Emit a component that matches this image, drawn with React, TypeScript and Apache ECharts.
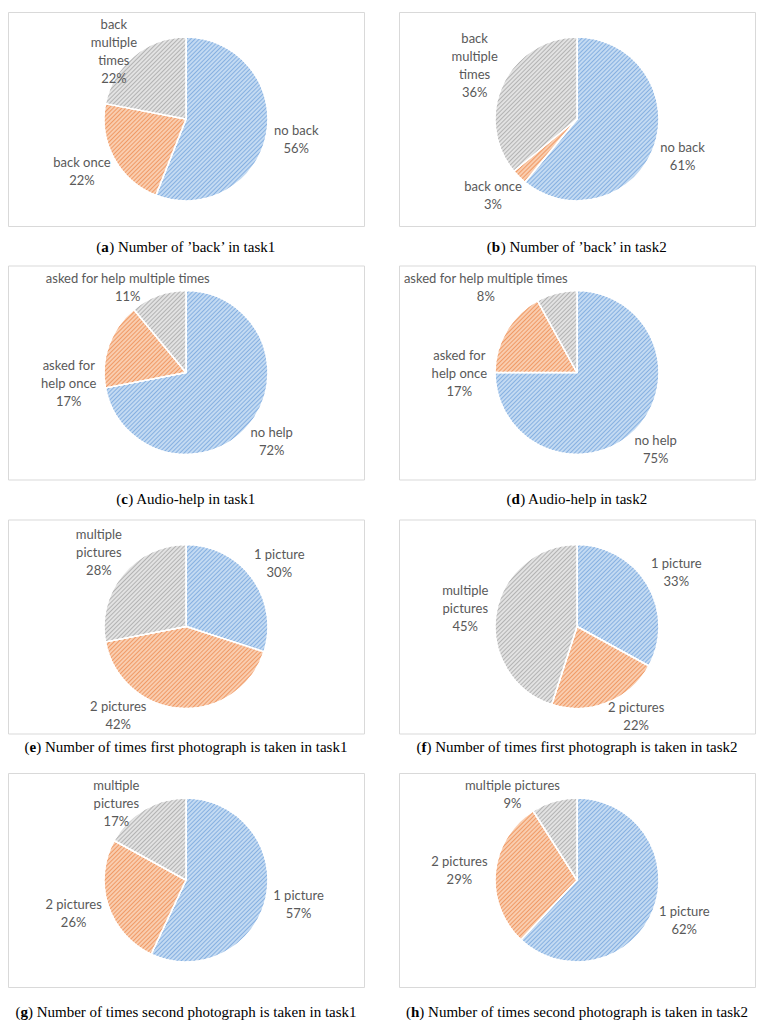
import React, { useEffect, useRef } from "react";
import * as echarts from "echarts";

// ---- data ----
const letters = ["a", "b", "c", "d", "e", "f", "g", "h"];
const captions = [
  "Number of \u2019back\u2019 in task1",
  "Number of \u2019back\u2019 in task2",
  "Audio-help in task1",
  "Audio-help in task2",
  "Number of times first photograph is taken in task1",
  "Number of times first photograph is taken in task2",
  "Number of times second photograph is taken in task1",
  "Number of times second photograph is taken in task2",
];
const backLabelsA = ["no back", "back once", "back\nmultiple\ntimes"];
const helpLabels = ["no help", "asked for\nhelp once", "asked for help multiple times"];
const pictureLabels = ["1 picture", "2 pictures", "multiple\npictures"];
const pictureLabelsH = ["1 picture", "2 pictures", "multiple pictures"];
const categories = [
  backLabelsA,
  backLabelsA,
  helpLabels,
  helpLabels,
  pictureLabels,
  pictureLabels,
  pictureLabels,
  pictureLabelsH,
];
const valuesA = [56, 22, 22];
const valuesB = [61, 3, 36];
const valuesC = [72, 17, 11];
const valuesD = [75, 17, 8];
const valuesE = [30, 42, 28];
const valuesF = [33, 22, 45];
const valuesG = [57, 26, 17];
const valuesH = [62, 29, 9];
const values = [valuesA, valuesB, valuesC, valuesD, valuesE, valuesF, valuesG, valuesH];

// ---- layout / style ----
const COL_CX = [186, 577];
const ROW_CY = [119, 372.5, 626.5, 880];
const CAPTION_Y = [247, 499, 747, 1012];
const BOX_W = 356;
const BOX_H = 214;
const BOX_TOP_OFF = 107;
const R = 82;
const GAP = 8;
// Excel "best fit" moved a few labels away from the slice mid-angle
const labelAngleOverride: (number | null)[][] = [
  [null, null, null],
  [null, null, null],
  [null, 265, null],
  [null, 270, 328],
  [null, 215, null],
  [null, 150, null],
  [null, null, 322],
  [null, null, 332],
];
const sliceStyles = [
  { bg: "#C3DAF2", line: "#86B0E1" },
  { bg: "#F9CDAF", line: "#F09A66" },
  { bg: "#E2E2E2", line: "#B3B3B3" },
];
const LABEL_COLOR = "#595959";

function panelGeom(i: number) {
  const col = i % 2;
  const row = Math.floor(i / 2);
  const cx = COL_CX[col];
  const cy = ROW_CY[row];
  const top = cy - BOX_TOP_OFF;
  const left = cx - BOX_W / 2;
  return { cx, cy, top, left, bottom: top + BOX_H, right: left + BOX_W, capY: CAPTION_Y[row] };
}

export default function App() {
  const ref = useRef<HTMLDivElement>(null);
  useEffect(() => {
    if (!ref.current) return;
    const chart = echarts.init(ref.current, undefined, { renderer: "svg" });

    const series: any[] = values.map((vals, s) => {
      const g = panelGeom(s);
      return {
        type: "pie",
        center: [g.cx, g.cy],
        radius: R,
        startAngle: 90,
        clockwise: true,
        silent: true,
        avoidLabelOverlap: false,
        emphasis: { disabled: true },
        label: {
          show: true,
          position: "outside",
          color: LABEL_COLOR,
          fontFamily: "Lato",
          fontSize: 13,
          lineHeight: 18,
          align: "center",
          formatter: (p: any) => `${p.name}\n${p.value}%`,
        },
        labelLine: { show: false, length: 4, length2: 0 },
        labelLayout: (params: any) => {
          const idx = params.dataIndex;
          const total = vals.reduce((a, b) => a + b, 0);
          let cum = 0;
          for (let k = 0; k < idx; k++) cum += vals[k];
          const ov = labelAngleOverride[s][idx];
          const ang = ov != null ? ov : (360 * (cum + vals[idx] / 2)) / total;
          const rad = (ang * Math.PI) / 180;
          const dx = Math.sin(rad);
          const dy = -Math.cos(rad);
          const w = params.labelRect.width;
          const h = params.labelRect.height;
          let x = g.cx + dx * (R + GAP) + (dx * w) / 2;
          let y = g.cy + dy * (R + GAP) + (dy * h) / 2;
          y = Math.max(g.top + 3 + h / 2, Math.min(g.bottom - h / 2, y));
          x = Math.max(g.left + 3 + w / 2, Math.min(g.right - 3 - w / 2, x));
          return { x, y, align: "center", verticalAlign: "middle" };
        },
        data: vals.map((v, k) => ({
          name: categories[s][k],
          value: v,
          itemStyle: {
            color: sliceStyles[k].bg,
            borderColor: "#ffffff",
            borderWidth: 1.5,
            decal: {
              symbol: "rect",
              symbolSize: 1,
              dashArrayX: [1, 0],
              dashArrayY: [1, 1.5],
              rotation: -Math.PI / 4,
              color: sliceStyles[k].line,
            },
          },
        })),
      };
    });

    const graphics: any[] = [];
    letters.forEach((L, i) => {
      const g = panelGeom(i);
      graphics.push({
        type: "rect",
        silent: true,
        z: -10,
        shape: { x: g.left + 0.5, y: g.top + 0.5, width: BOX_W, height: BOX_H },
        style: { fill: "#ffffff", stroke: "#D9D9D9", lineWidth: 1 },
      });
      graphics.push({
        type: "text",
        silent: true,
        x: g.cx,
        y: g.capY,
        style: {
          text: `{p|(}{l|${L}}{p|) ${captions[i]}}`,
          align: "center",
          verticalAlign: "middle",
          fill: "#000000",
          rich: {
            p: { fontFamily: "Liberation Serif", fontSize: 15, fill: "#000" },
            l: { fontFamily: "Liberation Serif", fontSize: 15, fontWeight: "bold", fill: "#000" },
          },
        },
      });
    });

    chart.setOption({
      animation: false,
      backgroundColor: "#ffffff",
      graphic: { elements: graphics },
      series,
    });
    return () => chart.dispose();
  }, []);
  return (
    <div
      ref={ref}
      style={{ position: "absolute", left: 0, top: 0, width: 764, height: 1020 }}
    />
  );
}
